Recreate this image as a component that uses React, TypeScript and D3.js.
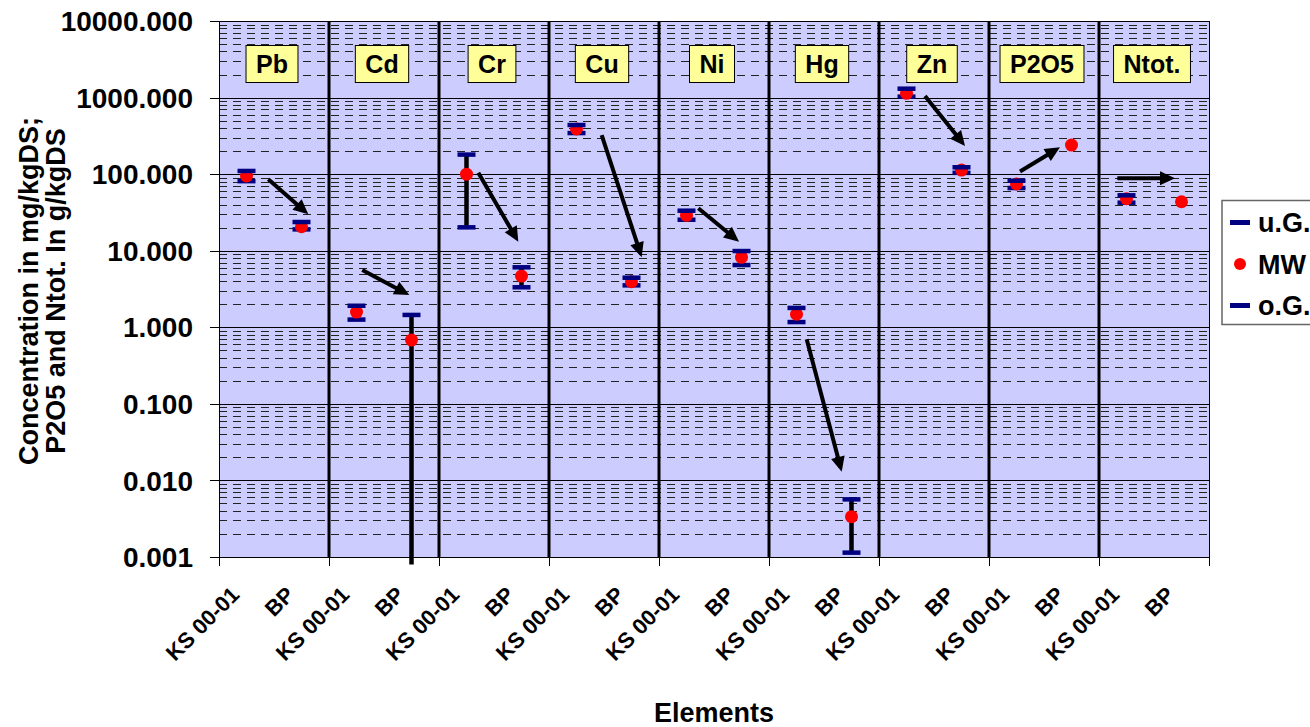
import React, { useEffect, useRef } from "react";
import * as d3 from "d3";

// ---- data ----
const elements = ["Pb", "Cd", "Cr", "Cu", "Ni", "Hg", "Zn", "P2O5", "Ntot."];
const samples = ["KS 00-01", "BP"];
// per category (element x sample), in order Pb-KS, Pb-BP, Cd-KS, ...
const lowerUG: (number | null)[] = [81, 19.0, 1.26, 0.0008, 20.2, 3.33, 344, 3.53, 25.4, 6.5, 1.17, 0.00114, 1028, 104, 65.9, null, 42.4, null];
const meanMW: number[] = [94.6, 20.6, 1.58, 0.68, 100, 4.67, 389, 3.94, 29, 8.2, 1.48, 0.00336, 1137, 113, 74.3, 240, 47.8, 43.6];
const upperOG: (number | null)[] = [110, 23.7, 1.91, 1.45, 180, 6.07, 438, 4.44, 33.3, 9.9, 1.79, 0.00566, 1306, 123, 82, null, 52.9, null];

// trend arrows (category position, value)
const arrowFromPos = [0.896, 2.605, 4.715, 6.958, 8.715, 10.685, 12.836, 14.564, 16.333];
const arrowFromVal = [85.7, 5.6, 104, 324, 35.8, 0.697, 1049, 108, 88.3];
const arrowToPos = [1.624, 3.46, 5.442, 7.685, 9.455, 11.322, 13.564, 15.291, 17.382];
const arrowToVal = [29.9, 2.64, 13.1, 8.2, 13.1, 0.013, 233, 224, 88.3];

const yTickValues = [0.001, 0.01, 0.1, 1, 10, 100, 1000, 10000];
const legendLabels = ["u.G.", "MW", "o.G."];

const FONT = "Arial, 'Liberation Sans', Helvetica, sans-serif";

export default function App() {
  const ref = useRef<SVGSVGElement | null>(null);

  useEffect(() => {
    const svg = d3.select(ref.current!);
    svg.selectAll("*").remove();

    const left = 219, right = 1209, top = 21, bottom = 557;
    const categories = d3.range(elements.length * samples.length);
    const x = d3.scaleBand<number>().domain(categories).range([left, right]);
    const xPos = d3.scaleLinear().domain([0, categories.length]).range([left, right]);
    const y = d3.scaleLog().domain([0.001, 10000]).range([bottom, top]);
    const panel = d3.scaleBand<string>().domain(elements).range([left, right]);

    // background
    svg.append("rect").attr("x", left).attr("y", top).attr("width", right - left).attr("height", bottom - top).attr("fill", "#CCCCFF");

    // minor grid
    const minor: number[] = [];
    for (let d = -3; d < 4; d++) for (let k = 2; k <= 9; k++) minor.push(k * Math.pow(10, d));
    svg.append("g").selectAll("line").data(minor).join("line")
      .attr("x1", left).attr("x2", right)
      .attr("y1", (v) => Math.round(y(v)) + 0.5).attr("y2", (v) => Math.round(y(v)) + 0.5)
      .attr("stroke", "#222").attr("stroke-width", 1).attr("stroke-dasharray", "8,6");

    // major grid
    svg.append("g").selectAll("line").data(yTickValues).join("line")
      .attr("x1", left - 9).attr("x2", right)
      .attr("y1", (v) => Math.round(y(v)) + 0.5).attr("y2", (v) => Math.round(y(v)) + 0.5)
      .attr("stroke", "#000").attr("stroke-width", 1);

    // plot border
    svg.append("rect").attr("x", left + 0.5).attr("y", top + 0.5).attr("width", right - left).attr("height", bottom - top)
      .attr("fill", "none").attr("stroke", "#000").attr("stroke-width", 1);

    // panel separators
    svg.append("g").selectAll("line").data(elements.slice(1)).join("line")
      .attr("x1", (e) => panel(e)!).attr("x2", (e) => panel(e)!)
      .attr("y1", top).attr("y2", bottom)
      .attr("stroke", "#000").attr("stroke-width", 3);

    // x ticks
    svg.append("g").selectAll("line").data(d3.range(elements.length + 1)).join("line")
      .attr("x1", (i) => xPos(i * 2) + 0.5).attr("x2", (i) => xPos(i * 2) + 0.5)
      .attr("y1", bottom).attr("y2", bottom + 9)
      .attr("stroke", "#000").attr("stroke-width", 1);

    // y tick labels
    svg.append("g").selectAll("text").data(yTickValues).join("text")
      .attr("x", 193).attr("y", (v) => y(v)).attr("dy", "0.36em")
      .attr("text-anchor", "end").attr("font-family", FONT).attr("font-weight", "bold").attr("font-size", 28)
      .text((v) => d3.format(".3f")(v));

    // x labels
    svg.append("g").selectAll("text").data(categories).join("text")
      .attr("transform", (i) => `translate(${x(i)! + x.bandwidth() / 2 - 17},${bottom + 28}) rotate(-45)`)
      .attr("dy", "0.72em")
      .attr("text-anchor", "end").attr("font-family", FONT).attr("font-weight", "bold").attr("font-size", 22)
      .text((i) => samples[i % 2]);

    // element labels
    const lab = svg.append("g").selectAll("g").data(elements).join("g");
    lab.each(function (e) {
      const g = d3.select(this);
      const cx = panel(e)! + panel.bandwidth() / 2 - 2;
      const t = g.append("text").attr("x", cx).attr("y", 73).attr("text-anchor", "middle")
        .attr("font-family", FONT).attr("font-weight", "bold").attr("font-size", 25).text(e);
      const w = (t.node() as SVGTextElement).getComputedTextLength();
      g.insert("rect", "text").attr("x", cx - w / 2 - 10).attr("y", 45.5).attr("width", w + 20).attr("height", 37)
        .attr("fill", "#FFFF99").attr("stroke", "#000").attr("stroke-width", 1);
    });

    // error bar lines
    const cx = (i: number) => x(i)! + x.bandwidth() / 2;
    const withRange = categories.filter((i) => lowerUG[i] != null && upperOG[i] != null);
    svg.append("g").selectAll("line").data(withRange).join("line")
      .attr("x1", cx).attr("x2", cx)
      .attr("y1", (i) => y(upperOG[i]!)).attr("y2", (i) => y(lowerUG[i]!))
      .attr("stroke", "#000").attr("stroke-width", 4.5);

    const capW = 18, capH = 4.5;
    const inDomain = (v: number | null) => v != null && v >= 0.001;
    // u.G. caps
    svg.append("g").selectAll("rect").data(categories.filter((i) => inDomain(lowerUG[i]))).join("rect")
      .attr("x", (i) => cx(i) - capW / 2).attr("y", (i) => y(lowerUG[i]!) - capH / 2)
      .attr("width", capW).attr("height", capH).attr("fill", "#000080");
    // MW dots
    svg.append("g").selectAll("circle").data(categories).join("circle")
      .attr("cx", cx).attr("cy", (i) => y(meanMW[i])).attr("r", 6.5).attr("fill", "#FF0000");
    // o.G. caps
    svg.append("g").selectAll("rect").data(categories.filter((i) => inDomain(upperOG[i]))).join("rect")
      .attr("x", (i) => cx(i) - capW / 2).attr("y", (i) => y(upperOG[i]!) - capH / 2)
      .attr("width", capW).attr("height", capH).attr("fill", "#000080");

    // arrows
    const ag = svg.append("g");
    arrowFromPos.forEach((_, k) => {
      const x1 = xPos(arrowFromPos[k]), y1 = y(arrowFromVal[k]);
      const x2 = xPos(arrowToPos[k]), y2 = y(arrowToVal[k]);
      const len = Math.hypot(x2 - x1, y2 - y1);
      const ux = (x2 - x1) / len, uy = (y2 - y1) / len;
      const hl = 15, hw = 7;
      const bx = x2 - ux * hl, by = y2 - uy * hl;
      ag.append("line").attr("x1", x1).attr("y1", y1).attr("x2", bx + ux * 2).attr("y2", by + uy * 2)
        .attr("stroke", "#000").attr("stroke-width", 4);
      ag.append("polygon")
        .attr("points", `${x2},${y2} ${bx - uy * hw},${by + ux * hw} ${bx + uy * hw},${by - ux * hw}`)
        .attr("fill", "#000");
    });

    // y-axis title
    svg.append("text").attr("transform", "translate(38,291) rotate(-90)").attr("text-anchor", "middle")
      .attr("font-family", FONT).attr("font-weight", "bold").attr("font-size", 27)
      .text("Concentration in mg/kgDS;");
    svg.append("text").attr("transform", "translate(65,291) rotate(-90)").attr("text-anchor", "middle")
      .attr("font-family", FONT).attr("font-weight", "bold").attr("font-size", 27)
      .text("P2O5 and Ntot. In g/kgDS");

    // x-axis title
    svg.append("text").attr("x", 714).attr("y", 722).attr("text-anchor", "middle")
      .attr("font-family", FONT).attr("font-weight", "bold").attr("font-size", 27).text("Elements");

    // legend
    const lg = svg.append("g");
    lg.append("rect").attr("x", 1222).attr("y", 200.5).attr("width", 120).attr("height", 124)
      .attr("fill", "#fff").attr("stroke", "#666").attr("stroke-width", 1.5);
    const ly = [222.5, 264, 305.5];
    legendLabels.forEach((l, k) => {
      if (k === 1) {
        lg.append("circle").attr("cx", 1240).attr("cy", ly[k]).attr("r", 6).attr("fill", "#FF0000");
      } else {
        lg.append("rect").attr("x", 1230).attr("y", ly[k] - 2.5).attr("width", 20).attr("height", 5).attr("fill", "#000080");
      }
      lg.append("text").attr("x", 1258).attr("y", ly[k]).attr("dy", "0.36em")
        .attr("font-family", FONT).attr("font-weight", "bold").attr("font-size", 27).text(l);
    });
  }, []);

  return (
    <svg ref={ref} width={1310} height={727} style={{ position: "absolute", left: 0, top: 0, background: "#fff" }} />
  );
}
